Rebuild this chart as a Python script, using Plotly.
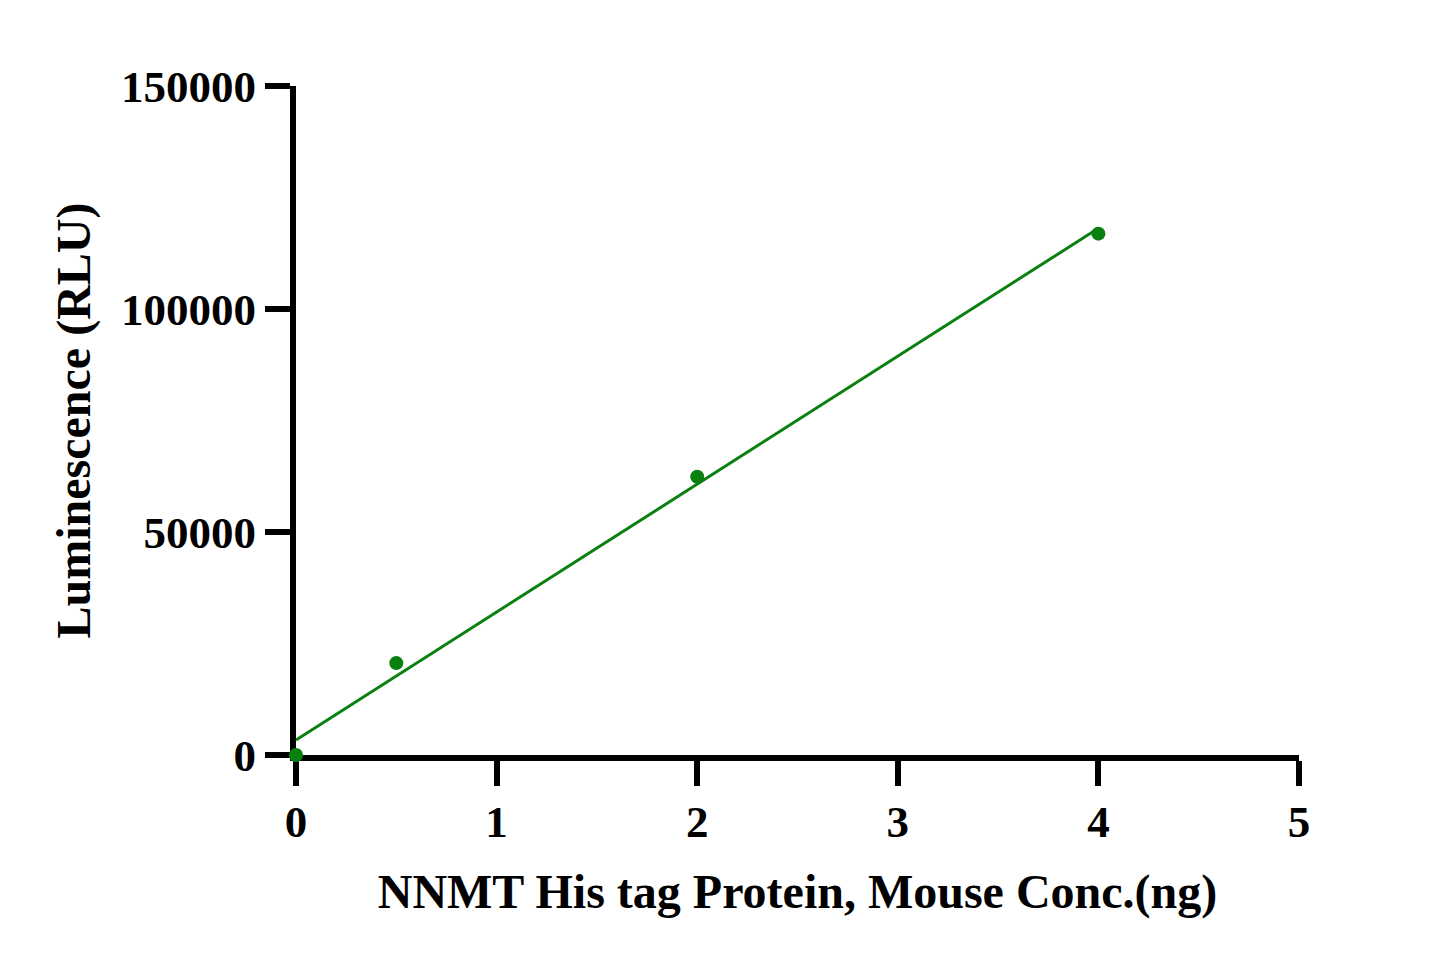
import numpy as np
import plotly.graph_objects as go

# Standard curve readings
conc_ng = [0, 0.5, 2, 4]
rlu = [0, 20600, 62400, 116900]

x_ticks = [0, 1, 2, 3, 4, 5]
y_ticks = [0, 50000, 100000, 150000]
y_tick_text = ["0", "50000", "100000", "150000"]

GREEN = "#0a8010"
FONT = "Liberation Serif"

# linear regression through the points
slope, intercept = np.polyfit(conc_ng, rlu, 1)
fit_x = [min(conc_ng), max(conc_ng)]
fit_y = [slope * v + intercept for v in fit_x]

fig = go.Figure()

fig.add_trace(go.Scatter(
    x=fit_x, y=fit_y,
    mode="lines",
    line=dict(color=GREEN, width=3),
    cliponaxis=False,
    showlegend=False,
))

fig.add_trace(go.Scatter(
    x=conc_ng, y=rlu,
    mode="markers",
    marker=dict(color=GREEN, size=14),
    cliponaxis=False,
    showlegend=False,
))

axis_common = dict(
    showline=True, linecolor="black", linewidth=6,
    ticks="outside", ticklen=25, tickwidth=6, tickcolor="black",
    showgrid=False, zeroline=False,
    layer="below traces", automargin=False,
    tickfont=dict(family=FONT, size=45, color="black", weight="bold"),
)

# page body has an 8px margin, so the figure is shifted by that much
fig.update_layout(
    width=1429, height=950,
    margin=dict(l=288, r=138, t=78, b=203),
    plot_bgcolor="white", paper_bgcolor="white",
    font=dict(family=FONT, color="black"),
    xaxis=dict(
        range=[0, 5], tickvals=x_ticks,
        title=dict(text="NNMT His tag Protein, Mouse Conc.(ng)",
                   font=dict(family=FONT, size=48, weight="bold"), standoff=30),
        ticklabelstandoff=-3,
        **axis_common,
    ),
    yaxis=dict(
        range=[0, 150000], tickvals=y_ticks, ticktext=y_tick_text,
        title=dict(text="Luminescence (RLU)",
                   font=dict(family=FONT, size=48, weight="bold"), standoff=17),
        **axis_common,
    ),
)

fig.write_html("out.html")
